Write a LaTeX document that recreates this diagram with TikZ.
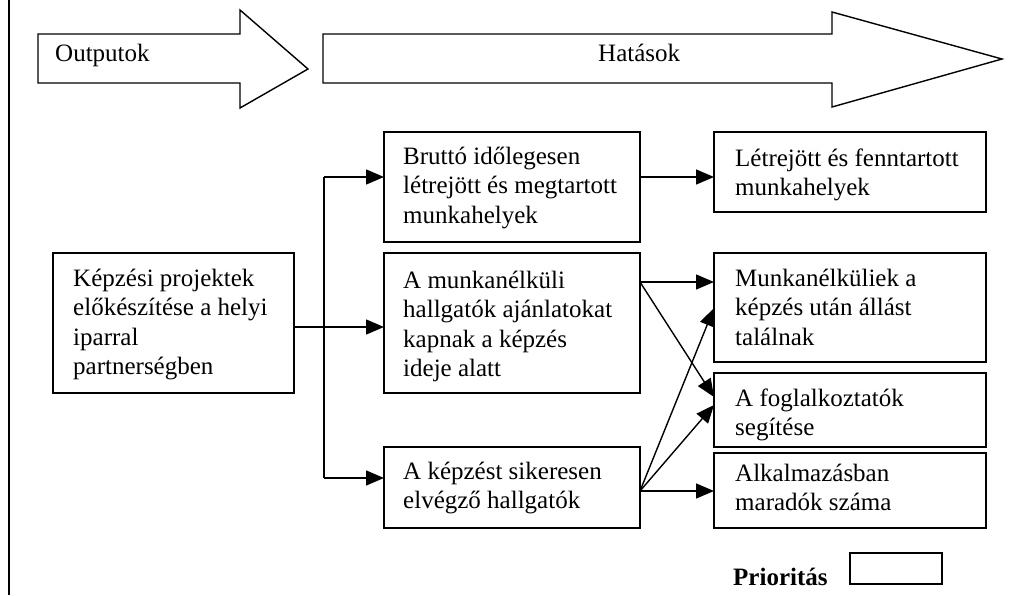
\documentclass[tikz,border=0pt]{standalone}
\usepackage{fontspec}
\setmainfont{Liberation Serif}
\usetikzlibrary{arrows.meta}
\newcommand{\tlines}[1]{\begin{tabular}[t]{@{}l@{}}#1\end{tabular}}
\begin{document}
\begin{tikzpicture}[x=1pt,y=-1pt,
  box/.style={draw, line width=1.4pt, anchor=north west, inner sep=0pt, outer sep=0pt},
  txt/.style={anchor=base west, inner sep=0pt, font=\fontsize{25}{29.5}\selectfont},
  bigarrow/.style={draw, line width=1.4pt, line join=miter},
  conn/.style={line width=1.4pt, -{Triangle[length=18pt,width=15pt]}},
  plain/.style={line width=1.4pt}]
\useasboundingbox (0,0) rectangle (1020,595);
% left border
\draw[line width=2.8pt] (9,0) -- (9,595);
% big arrows
\draw[bigarrow] (38,34) -- (240,34) -- (240,10) -- (308,69) -- (240,108) -- (240,83) -- (38,83) -- cycle;
\draw[bigarrow] (323,34) -- (832,34) -- (832,12) -- (1002,59) -- (832,107) -- (832,83) -- (323,83) -- cycle;
\node[txt] (outT) at (55,61) {Outputok};
\node[txt] (hatT) at (598,61) {Hatások};
% boxes
\node[box, minimum width=241pt, minimum height=140pt] (kepz) at (53,253) {};
\node[box, minimum width=256pt, minimum height=110pt] (brutto) at (384,132) {};
\node[box, minimum width=256pt, minimum height=140pt] (munk) at (384,253) {};
\node[box, minimum width=256pt, minimum height=81pt] (sik) at (384,447) {};
\node[box, minimum width=272pt, minimum height=80pt] (letre) at (714,132) {};
\node[box, minimum width=272pt, minimum height=109pt] (mnk) at (714,253) {};
\node[box, minimum width=272pt, minimum height=74pt] (fogl) at (714,373) {};
\node[box, minimum width=272pt, minimum height=75pt] (alk) at (714,453) {};
\node[box, minimum width=92pt, minimum height=31pt] (prio) at (850,553) {};
% texts
\node[txt] (kepzT) at (73,286) {\tlines{Képzési projektek\\előkészítése a helyi\\iparral\\partnerségben}};
\node[txt] (bruttoT) at (403,164) {\tlines{Bruttó időlegesen\\létrejött és megtartott\\munkahelyek}};
\node[txt] (munkT) at (403,288) {\tlines{A munkanélküli\\hallgatók ajánlatokat\\kapnak a képzés\\ideje alatt}};
\node[txt] (sikT) at (403,479) {\tlines{A képzést sikeresen\\elvégző hallgatók}};
\node[txt] (letreT) at (735,166) {\tlines{Létrejött és fenntartott\\munkahelyek}};
\node[txt] (mnkT) at (735,286) {\tlines{Munkanélküliek a\\képzés után állást\\találnak}};
\node[txt] (foglT) at (735,406) {\tlines{A foglalkoztatók\\segítése}};
\node[txt] (alkT) at (735,481) {\tlines{Alkalmazásban\\maradók száma}};
\node[txt, font=\fontsize{25}{29.5}\selectfont\bfseries] (prioT) at (733,585) {Prioritás};
% connectors
\coordinate (ttop) at (324,177);
\coordinate (tbot) at (324,478);
\coordinate (tmid) at (324,327);
\draw[plain] (ttop) -- (tbot);
\draw[conn] (ttop) -- (ttop -| brutto.west);
\draw[conn] (tbot) -- (tbot -| sik.west);
\draw[conn] (tmid -| kepz.east) -- (tmid -| munk.west);
\coordinate (bo) at (640,177);
\draw[conn] (bo) -- (bo -| letre.west);
\coordinate (mo) at (640,282);
\coordinate (so) at (640,491);
\coordinate (mnkA) at (714,282);
\coordinate (mnkB) at (714,308);
\coordinate (foglA) at (714,397);
\coordinate (foglB) at (714,405);
\coordinate (alkA) at (714,491);
\draw[conn] (mo) -- (mnkA);
\draw[conn] (mo) -- (foglA);
\draw[conn] (so) -- (mnkB);
\draw[conn] (so) -- (foglB);
\draw[conn] (so) -- (alkA);
\end{tikzpicture}
\end{document}
